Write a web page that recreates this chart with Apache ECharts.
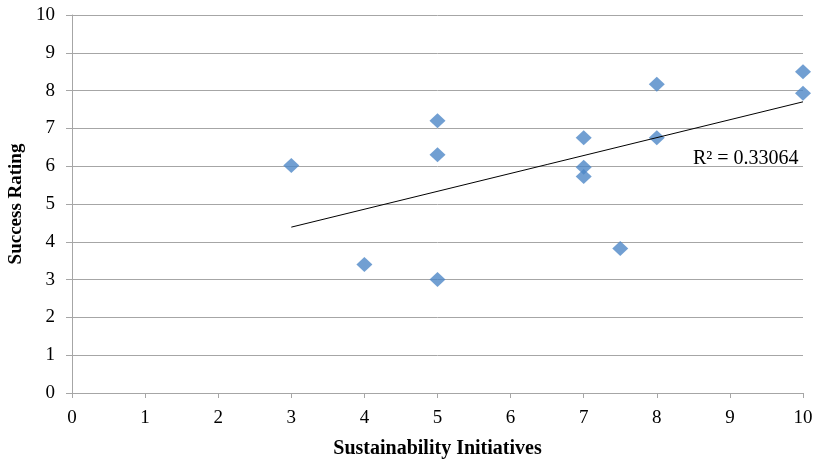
<!DOCTYPE html>
<html>
<head>
<meta charset="utf-8">
<script src="https://cdn.jsdelivr.net/npm/echarts@6/dist/echarts.min.js"></script>
<style>
  html, body { margin: 0; padding: 0; background: #fff; }
  #chart { width: 816px; height: 464px; }
</style>
</head>
<body>
<div id="chart"></div>
<script>
// Sustainability initiatives vs. success rating
const initiatives = [3, 4, 5, 5, 5, 7, 7, 7, 7.5, 8, 8, 10, 10];
const ratings = [6.02, 3.4, 7.2, 6.3, 3.0, 6.75, 5.97, 5.73, 3.82, 8.17, 6.75, 8.5, 7.93];
const xTicks = [0, 1, 2, 3, 4, 5, 6, 7, 8, 9, 10];
const yTicks = [0, 1, 2, 3, 4, 5, 6, 7, 8, 9, 10];
const rSquaredText = 'R² = 0.33064';

// Least-squares linear trend across the observed x range
const n = initiatives.length;
const mx = initiatives.reduce((a, b) => a + b, 0) / n;
const my = ratings.reduce((a, b) => a + b, 0) / n;
let sxy = 0, sxx = 0;
for (let i = 0; i < n; i++) {
  sxy += (initiatives[i] - mx) * (ratings[i] - my);
  sxx += (initiatives[i] - mx) ** 2;
}
const slope = sxy / sxx;
const intercept = my - slope * mx;
const xMin = Math.min(...initiatives), xMax = Math.max(...initiatives);
const trend = [[xMin, intercept + slope * xMin], [xMax, intercept + slope * xMax]];

const points = initiatives.map((x, i) => [x, ratings[i]]);
const font = '"Liberation Serif", "Times New Roman", serif';

const chart = echarts.init(document.getElementById('chart'));
chart.setOption({
  animation: false,
  backgroundColor: '#fff',
  grid: { left: 72, right: 13, top: 15, bottom: 71, outerBoundsMode: 'none', containLabel: false },
  xAxis: {
    type: 'value', min: xTicks[0], max: xTicks[xTicks.length - 1], interval: 1,
    name: 'Sustainability Initiatives', nameLocation: 'middle', nameGap: 46,
    nameTextStyle: { fontFamily: font, fontSize: 20, fontWeight: 'bold', color: '#000' },
    axisLine: { lineStyle: { color: '#a6a6a6', width: 1 } },
    axisTick: { show: true, length: 5, lineStyle: { color: '#a6a6a6' } },
    axisLabel: { fontFamily: font, fontSize: 19, color: '#000', margin: 16 },
    splitLine: { show: false }
  },
  yAxis: {
    type: 'value', min: yTicks[0], max: yTicks[yTicks.length - 1], interval: 1,
    name: 'Success Rating', nameLocation: 'middle', nameGap: 46, nameRotate: 90,
    nameTextStyle: { fontFamily: font, fontSize: 19, fontWeight: 'bold', color: '#000' },
    axisLine: { show: true, lineStyle: { color: '#a6a6a6', width: 1 } },
    axisTick: { show: true, length: 6, lineStyle: { color: '#a6a6a6' } },
    axisLabel: { fontFamily: font, fontSize: 19, color: '#000', margin: 17 },
    splitLine: { show: true, lineStyle: { color: '#a6a6a6', width: 1 } }
  },
  series: [
    {
      type: 'scatter',
      data: points,
      symbol: 'diamond',
      symbolSize: [16, 15],
      itemStyle: { color: '#4D87C7' },
      z: 3
    },
    {
      type: 'line',
      data: trend,
      symbol: 'none',
      lineStyle: { color: '#000', width: 1 },
      z: 4
    }
  ],
  graphic: [
    {
      type: 'text', left: 693, top: 149,
      style: { text: rSquaredText, fontFamily: font, fontSize: 20, fill: '#000' }
    }
  ]
});
</script>
</body>
</html>
